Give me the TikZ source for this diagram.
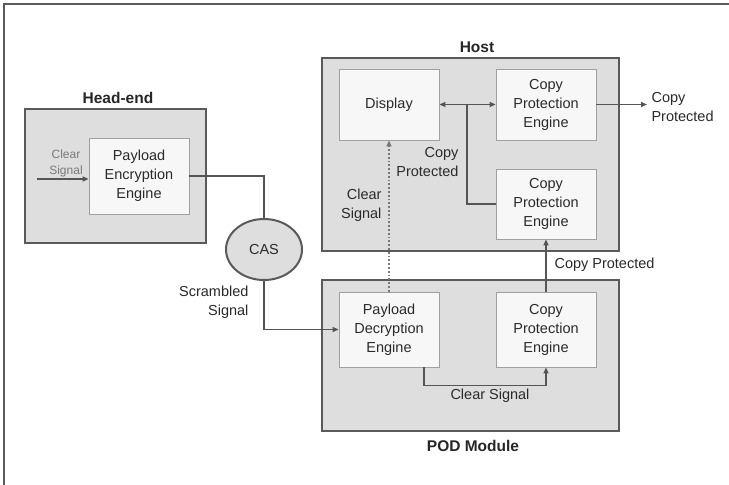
\documentclass[tikz,border=0pt]{standalone}
\usepackage{fontspec}
\setmainfont{Liberation Sans}
\usetikzlibrary{shapes.geometric,arrows.meta,calc}

\definecolor{frameline}{HTML}{5A5A5A}
\definecolor{groupfill}{HTML}{DEDEDE}
\definecolor{blockfill}{HTML}{F7F7F7}
\definecolor{blockline}{HTML}{A0A0A0}
\definecolor{wire}{HTML}{555555}
\definecolor{labeltext}{HTML}{2A2A2A}
\definecolor{softtext}{HTML}{7A7A7A}

\tikzset{
  group/.style={draw=frameline, fill=groupfill, line width=2.2pt,
    rectangle, inner sep=0pt},
  block/.style={draw=blockline, fill=blockfill, line width=0.8pt,
    rectangle, inner sep=0pt, minimum width=100pt, align=center,
    font=\fontsize{14.5}{19}\selectfont, text=labeltext},
  title/.style={font=\fontsize{15.5}{18}\selectfont\bfseries, text=black!85},
  tag/.style={font=\fontsize{14.5}{19}\selectfont, text=labeltext, align=center},
  wirestyle/.style={draw=wire, line width=1.6pt,
    -{Triangle[length=6pt,width=5pt]}},
  plain/.style={draw=wire, line width=1.6pt}
}

\begin{document}
\begin{tikzpicture}[x=1pt,y=-1pt]
  \useasboundingbox (0,0) rectangle (729,485);
  \fill[white] (0,0) rectangle (729,485);
  % page frame (top and left rules)
  \draw[frameline, line width=1.6pt] (4,485) -- (4,4) -- (729,4);

  % Head-end
  \node[group, minimum width=181pt, minimum height=134pt] (headend) at (115.5,176) {};
  \node[title] (headendT) at (118,98) {Head-end};
  \node[block, minimum height=76pt] (pee) at (139,176) {Payload\\Encryption\\Engine};
  \coordinate (cin) at (37,179);
  \node[font=\fontsize{12}{16}\selectfont, text=softtext, align=center] (cinT) at (66,163) {Clear\\Signal};

  % CAS
  \node[ellipse, draw=frameline, fill=groupfill, line width=2pt,
        minimum width=76pt, minimum height=61pt, inner sep=0pt,
        font=\fontsize{14.5}{16}\selectfont, text=labeltext] (cas) at (264,249.5) {CAS};
  \node[tag, align=right, anchor=east] (scrT) at (252,302) {Scrambled\\Signal};

  % Host
  \node[group, minimum width=297pt, minimum height=193pt] (host) at (470.5,154.5) {};
  \node[title] (hostT) at (477,47) {Host};
  \node[block, minimum height=71pt] (disp) at (389,104.5) {Display};
  \node[block, minimum height=71pt] (cpeA) at (546,104.5) {Copy\\Protection\\Engine};
  \node[block, minimum height=70pt] (cpeB) at (546,204) {Copy\\Protection\\Engine};
  \coordinate (jn) at (467,104.5);
  \coordinate (out) at (647,104.5);
  \node[tag, anchor=west, align=left] (outT) at (648,107) {Copy\\Protected};
  \node[tag, anchor=east, align=right] (cpT) at (462,162) {Copy\\Protected};
  \node[tag, anchor=east, align=right] (clrT) at (385,205) {Clear\\Signal};

  % POD Module
  \node[group, minimum width=297pt, minimum height=151pt] (pod) at (470.5,355.5) {};
  \node[title] (podT) at (473,446) {POD Module};
  \node[block, minimum height=75pt] (pde) at (389,329.5) {Payload\\Decryption\\Engine};
  \node[block, minimum height=75pt] (cpeC) at (546,329.5) {Copy\\Protection\\Engine};
  \node[tag] (clr2T) at (490,396) {Clear Signal};
  \node[tag, anchor=west] (cp2T) at (551,265) {Copy Protected};

  % connectors
  \draw[wirestyle] (cin) -- (cin -| pee.west);
  \draw[plain] (pee.east) -| (cas.north);
  \draw[wirestyle] (cas.south) |- (pde.west);
  \draw[wirestyle] ([xshift=35pt]pde.south) -- ++(0,18) -| (cpeC.south);
  \draw[wirestyle] (cpeC.north) -- (cpeB.south);
  \draw[draw=wire!80, line width=1.8pt, dotted,
        -{Triangle[length=6pt,width=5pt]}] (pde.north) -- (disp.south);
  \draw[draw=wire, line width=1.6pt,
        {Triangle[length=6pt,width=5pt]}-{Triangle[length=6pt,width=5pt]}]
        (disp.east) -- (cpeA.west);
  \draw[plain] (cpeB.west) -| (jn);
  \draw[wirestyle] (cpeA.east) -- (out);
\end{tikzpicture}
\end{document}
